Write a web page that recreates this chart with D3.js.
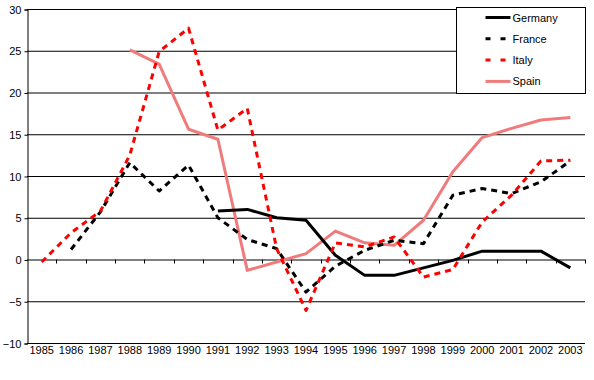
<!DOCTYPE html>
<html>
<head>
<meta charset="utf-8">
<script src="https://cdn.jsdelivr.net/npm/d3@7"></script>
<style>
  body { margin: 0; background: #fff; }
  svg { font-family: "Liberation Sans", Arial, sans-serif; }
</style>
</head>
<body>
<div id="chart"></div>
<script>
const years = ["1985", "1986", "1987", "1988", "1989", "1990", "1991", "1992", "1993", "1994",
  "1995", "1996", "1997", "1998", "1999", "2000", "2001", "2002", "2003"];

const germany = [null, null, null, null, null, null, 5.8, 6.0, 5.0, 4.7,
  0.5, -1.9, -1.9, -1.0, -0.1, 1.0, 1.0, 1.0, -1.0];
const france = [null, 1.2, 5.7, 11.6, 8.2, 11.3, 5.0, 2.4, 1.3, -3.9,
  -0.8, 1.1, 2.3, 1.9, 7.7, 8.5, 7.9, 9.3, 11.8];
const italy = [-0.3, 3.2, 5.8, 12.5, 24.9, 27.7, 15.5, 18.1, 1.3, -6.1,
  2.0, 1.5, 2.7, -2.1, -1.2, 4.5, 7.7, 11.8, 11.9];
const spain = [null, null, null, 25.1, 23.4, 15.6, 14.4, -1.3, -0.3, 0.7,
  3.4, 2.0, 1.7, 4.7, 10.5, 14.6, 15.7, 16.7, 17.0];

const yTicks = [-10, -5, 0, 5, 10, 15, 20, 25, 30];

const series = [
  { name: "Germany", values: germany, color: "#000", dash: null },
  { name: "France", values: france, color: "#000", dash: "6,5" },
  { name: "Italy", values: italy, color: "#ff0000", dash: "6,5" },
  { name: "Spain", values: spain, color: "#f07b7b", dash: null }
];

const width = 594;
const height = 380;
const margin = { top: 9, right: 9, bottom: 37, left: 27 };

const svg = d3.select("#chart")
  .append("svg")
  .attr("width", width)
  .attr("height", height);

const x = d3.scaleBand()
  .domain(years)
  .range([margin.left, width - margin.right]);

const y = d3.scaleLinear()
  .domain([-10, 30])
  .range([height - margin.bottom, margin.top]);

// gridlines
svg.append("g")
  .selectAll("line")
  .data(yTicks)
  .enter()
  .append("line")
  .attr("x1", margin.left)
  .attr("x2", width - margin.right)
  .attr("y1", d => y(d) + 0.5)
  .attr("y2", d => y(d) + 0.5)
  .attr("stroke", "#000")
  .attr("stroke-width", 1);

// y axis
const yAxis = svg.append("g")
  .attr("transform", `translate(${margin.left + 0.5},0.5)`)
  .call(d3.axisLeft(y).tickValues(yTicks).tickSize(3).tickPadding(3)
    .tickFormat(d => d < 0 ? "\u2212" + Math.abs(d) : d));
yAxis.select(".domain").attr("stroke", "#000");
yAxis.selectAll("text").attr("font-size", 11).attr("fill", "#000")
  .attr("font-family", "Liberation Sans, Arial, sans-serif");

// category ticks on the zero line
const bounds = years.map(d => x(d)).concat([x.range()[1]]);
svg.append("g")
  .selectAll("line")
  .data(bounds.slice(1))
  .enter()
  .append("line")
  .attr("x1", d => Math.round(d) + 0.5)
  .attr("x2", d => Math.round(d) + 0.5)
  .attr("y1", y(0))
  .attr("y2", y(0) + 4)
  .attr("stroke", "#000");

// year labels
svg.append("g")
  .selectAll("text")
  .data(years)
  .enter()
  .append("text")
  .attr("x", d => x(d) + x.bandwidth() / 2)
  .attr("y", height - margin.bottom + 11)
  .attr("text-anchor", "middle")
  .attr("font-size", 11)
  .attr("fill", "#000")
  .text(d => d);

// lines
const line = d3.line()
  .defined(d => d.v !== null)
  .x(d => x(d.year) + x.bandwidth() / 2)
  .y(d => y(d.v));

const order = [series[3], series[0], series[1], series[2]];
svg.append("g")
  .selectAll("path")
  .data(order)
  .enter()
  .append("path")
  .attr("d", s => line(years.map((yr, i) => ({ year: yr, v: s.values[i] }))))
  .attr("fill", "none")
  .attr("stroke", s => s.color)
  .attr("stroke-width", 3)
  .attr("stroke-dasharray", s => s.dash)
  .attr("stroke-linejoin", "round");

// legend
const legend = svg.append("g").attr("transform", "translate(456.5,7.5)");
legend.append("rect")
  .attr("width", 129)
  .attr("height", 86)
  .attr("fill", "#fff")
  .attr("stroke", "#000");

const rows = legend.selectAll("g.row")
  .data(series)
  .enter()
  .append("g")
  .attr("class", "row")
  .attr("transform", (d, i) => `translate(0,${10 + i * 21.3})`);

rows.append("line")
  .attr("x1", 29)
  .attr("x2", 54)
  .attr("y1", 0)
  .attr("y2", 0)
  .attr("stroke", d => d.color)
  .attr("stroke-width", 3)
  .attr("stroke-dasharray", d => d.dash ? "5,10" : null);

rows.append("text")
  .attr("x", 56)
  .attr("y", 4)
  .attr("font-size", 11)
  .attr("fill", "#000")
  .text(d => d.name);
</script>
</body>
</html>
